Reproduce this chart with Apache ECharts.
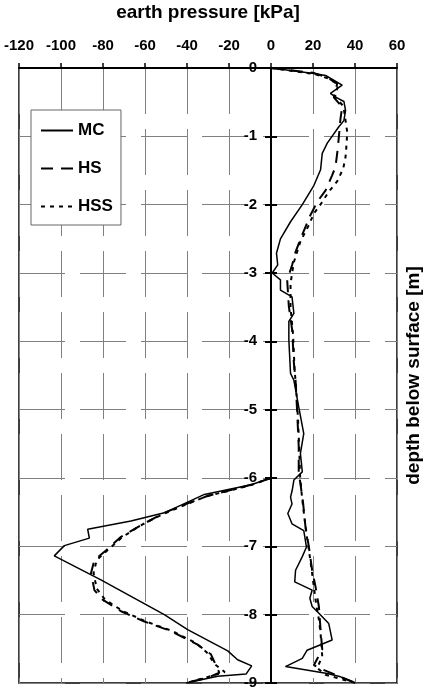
<!DOCTYPE html>
<html>
<head>
<meta charset="utf-8">
<script src="https://cdn.jsdelivr.net/npm/echarts@6/dist/echarts.min.js"></script>
<style>
  html, body { margin: 0; padding: 0; background: #fff; }
  #chart { width: 426px; height: 689px; }
</style>
</head>
<body>
<div id="chart"></div>
<script>
// [earth pressure kPa, depth m]
let mcRight = [
  [0, 0], [20.4, -0.08], [26, -0.11], [33.9, -0.25], [28.3, -0.37], [31, -0.43], [34.7, -0.49],
  [35.5, -0.62], [34.7, -0.77], [32.3, -0.86], [26.8, -1.1], [24.4, -1.25], [23.6, -1.49],
  [20.4, -1.72], [14.9, -2.0], [9.3, -2.25], [4.5, -2.5], [2.6, -2.71], [3.2, -2.88], [0.6, -3.0],
  [4.5, -3.1], [4.5, -3.25], [10, -3.35], [10.9, -3.59], [8.5, -3.71], [8.5, -3.98], [9.3, -4.47],
  [10.9, -4.57], [13.2, -4.96], [15.6, -5.35], [14, -5.64], [14.9, -5.91], [10.9, -6.03],
  [10.1, -6.18], [9.3, -6.28], [10, -6.38], [8, -6.52], [10, -6.67], [15.6, -6.77], [16.9, -7.01],
  [14.9, -7.15], [11.7, -7.35], [11.3, -7.52], [19.6, -7.64], [18.5, -7.76], [19.6, -7.88],
  [22.8, -7.98], [27.5, -8.13], [29.1, -8.37], [23.6, -8.44], [17.2, -8.52], [14.9, -8.64],
  [6.9, -8.76], [26.8, -8.86], [33.1, -8.91], [40.2, -9.0]
];
let hsRight = [
  [0, 0], [20, -0.07], [26.9, -0.14], [31.5, -0.23], [29.9, -0.43], [33.9, -0.57], [33.1, -0.74],
  [32.6, -0.91], [31.8, -1.18], [30.7, -1.45], [29.1, -1.57], [26, -1.79], [22, -1.96],
  [18.8, -2.15], [14.9, -2.44], [11.7, -2.69], [10.1, -2.88], [8.5, -3.03], [7.7, -3.1],
  [8.5, -3.49], [10.1, -3.84], [10.9, -4.32], [11.7, -4.57], [12.5, -5.06], [13.2, -5.54],
  [13.2, -5.93], [14, -6.08], [15.3, -6.37], [16.4, -6.71], [18, -7.0], [19.6, -7.35],
  [21.2, -7.59], [22.8, -7.88], [23.6, -8.22], [24.4, -8.51], [20.4, -8.74], [23.6, -8.79],
  [40.2, -9.0]
];
let hssRight = [
  [0, 0], [21, -0.09], [27, -0.15], [32, -0.24], [30.5, -0.42], [34.5, -0.56], [35.5, -0.77],
  [36.3, -0.94], [36, -1.1], [35.5, -1.3], [34.4, -1.47], [31.5, -1.66], [27.5, -1.81],
  [24.4, -1.96], [20.4, -2.13], [18, -2.3], [14, -2.54], [10.9, -2.84], [9.3, -3.15], [9.3, -3.5],
  [10.5, -3.9], [11.2, -4.4], [12, -4.7], [12.8, -5.1], [13.5, -5.6], [13.8, -5.95], [14.5, -6.2],
  [15.6, -6.5], [16.8, -6.8], [17.8, -7.0], [19.6, -7.4], [21.5, -7.85], [22.8, -8.07],
  [23.6, -8.27], [24.4, -8.61], [22, -8.78], [26, -8.88], [40.2, -9.0]
];
let mcLeft = [
  [0, -6.0], [-9.5, -6.1], [-31.7, -6.24], [-50.8, -6.51], [-66.7, -6.63], [-87.3, -6.75],
  [-86.5, -6.88], [-98.4, -6.99], [-103.2, -7.14], [-81, -7.49], [-50.8, -8.0], [-39.7, -8.22],
  [-20.6, -8.53], [-15.9, -8.66], [-9.2, -8.75], [-11.9, -8.87], [-25.4, -8.9], [-40.5, -9.0]
];
let hsLeft = [
  [0, -6.0], [-9.5, -6.1], [-30, -6.26], [-42, -6.4], [-50.8, -6.51], [-61.9, -6.69],
  [-71.4, -6.86], [-78.6, -7.06], [-84.1, -7.2], [-85.7, -7.39], [-84.1, -7.64], [-80.2, -7.78],
  [-71.4, -7.95], [-60.3, -8.1], [-47.6, -8.24], [-34.9, -8.44], [-28.6, -8.58], [-24.6, -8.85],
  [-30, -8.92], [-40.5, -9.0]
];
let hssLeft = [
  [0, -6.0], [-10, -6.11], [-31, -6.27], [-43, -6.42], [-51.5, -6.53], [-62.5, -6.7],
  [-71, -6.87], [-78, -7.06], [-83, -7.2], [-84.5, -7.39], [-83, -7.62], [-79, -7.78],
  [-70.5, -7.95], [-59.5, -8.1], [-47, -8.24], [-35.5, -8.42], [-30, -8.57], [-27, -8.72],
  [-22, -8.84], [-32, -8.93], [-40.5, -9.0]
];
let methods = ["MC", "HS", "HSS"];

let font = "'Liberation Sans', Arial, sans-serif";
let gridDash = [46, 15];
// grid: left 19, width 378 for -120..60 -> x=0 sits 252px in from the left edge
let zeroOffset = -252;

function line(name, data, type, width) {
  return {
    name: name,
    type: "line",
    data: data,
    symbol: "none",
    silent: true,
    lineStyle: { color: "#000", width: width, type: type },
    itemStyle: { color: "#000" }
  };
}

var myChart = echarts.init(document.getElementById("chart"));
myChart.setOption({
  animation: false,
  textStyle: { fontFamily: font },
  grid: {
    left: 19, right: 29, top: 68, bottom: 6,
    outerBoundsMode: "none",
    containLabel: false,
    show: true, borderColor: "#000", borderWidth: 1.5, backgroundColor: "transparent"
  },
  legend: {
    data: methods,
    orient: "vertical",
    left: 31, top: 110,
    padding: [12, 8, 10, 9],
    itemWidth: 32, itemHeight: 14, itemGap: 21,
    backgroundColor: "#fff",
    borderColor: "#666", borderWidth: 1,
    itemStyle: { opacity: 0 },
    textStyle: { fontFamily: font, fontWeight: "bold", fontSize: 17, color: "#000" }
  },
  xAxis: {
    type: "value",
    position: "top",
    min: -120, max: 60, interval: 20,
    name: "earth pressure [kPa]",
    nameLocation: "middle",
    nameGap: 46,
    nameMoveOverlap: false,
    nameTextStyle: { fontFamily: font, fontWeight: "bold", fontSize: 19, color: "#000" },
    axisLine: { onZero: false, lineStyle: { color: "#000", width: 2 } },
    axisTick: { show: true, length: 5, lineStyle: { color: "#000", width: 1.5 } },
    axisLabel: { margin: 15, fontFamily: font, fontWeight: "bold", fontSize: 15, color: "#000" },
    splitLine: { show: true, lineStyle: { color: "#808080", width: 1, type: gridDash } }
  },
  yAxis: [
    {
      type: "value",
      position: "left",
      offset: zeroOffset,
      min: -9, max: 0, interval: 1,
      axisLine: { show: true, onZero: false, lineStyle: { color: "#000", width: 2 } },
      axisTick: { show: true, length: 6, lineStyle: { color: "#000", width: 2 } },
      axisLabel: { margin: 14, fontFamily: font, fontWeight: "bold", fontSize: 15, color: "#000" },
      splitLine: { show: true, lineStyle: { color: "#808080", width: 1, type: gridDash } }
    },
    {
      type: "value",
      position: "right",
      min: -9, max: 0, interval: 1,
      name: "depth below surface [m]",
      nameLocation: "middle",
      nameGap: 7,
      nameRotate: 90,
      nameMoveOverlap: false,
      nameTextStyle: { fontFamily: font, fontWeight: "bold", fontSize: 19, color: "#000" },
      axisLine: { show: false, onZero: false },
      axisTick: { show: false },
      axisLabel: { show: false },
      splitLine: { show: false }
    },
    {
      // inner half of the crossing ticks on the zero axis
      type: "value",
      position: "left",
      offset: zeroOffset,
      min: -9, max: 0, interval: 1,
      axisLine: { show: false, onZero: false },
      axisTick: { show: true, inside: true, length: 6, lineStyle: { color: "#000", width: 2 } },
      axisLabel: { show: false },
      splitLine: { show: false }
    }
  ],
  series: [
    line("MC", mcRight, "solid", 1.5),
    line("MC", mcLeft, "solid", 1.5),
    line("HS", hsRight, [12, 8], 2),
    line("HS", hsLeft, [12, 8], 2),
    line("HSS", hssRight, [4, 5], 2),
    line("HSS", hssLeft, [4, 5], 2)
  ]
});
</script>
</body>
</html>
